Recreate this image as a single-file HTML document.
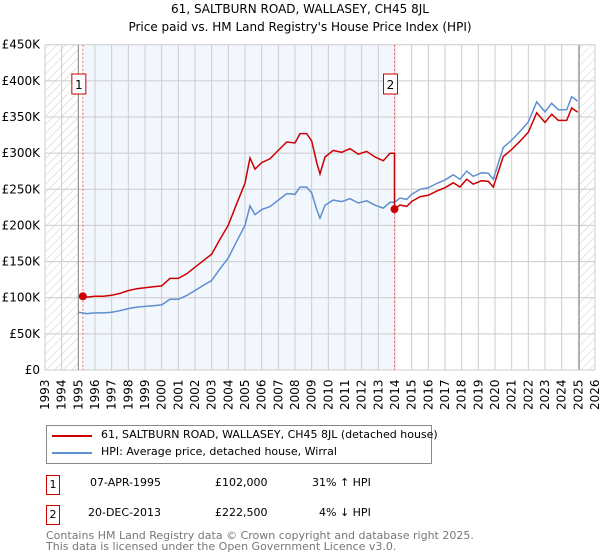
<!DOCTYPE html>
<html><head><meta charset="utf-8"><style>
body{margin:0;background:#fff;font-family:"DejaVu Sans","Liberation Sans",sans-serif;}
#wrap{position:relative;width:600px;height:560px;overflow:hidden}
.t{position:absolute;font-size:12px;color:#000;white-space:nowrap}
</style></head><body><div id="wrap">
<div class="t" style="left:0;width:600px;text-align:center;top:2px">61, SALTBURN ROAD, WALLASEY, CH45 8JL</div>
<div class="t" style="left:0;width:600px;text-align:center;top:20px">Price paid vs. HM Land Registry's House Price Index (HPI)</div>
<svg id="chart" width="600" height="420" style="position:absolute;left:0;top:0" font-family="DejaVu Sans, Liberation Sans, sans-serif"></svg>
<div style="position:absolute;left:46px;top:425px;width:384px;height:37px;border:1px solid #888;font-size:11px">
 <div style="position:absolute;left:5px;top:9px;width:40px;height:2px;background:#cc0000"></div>
 <div class="t" style="left:54px;top:2px;font-size:11px">61, SALTBURN ROAD, WALLASEY, CH45 8JL (detached house)</div>
 <div style="position:absolute;left:5px;top:26px;width:40px;height:2px;background:#5e8fd0"></div>
 <div class="t" style="left:54px;top:19px;font-size:11px">HPI: Average price, detached house, Wirral</div>
</div>
<div style="position:absolute;left:46px;top:475px;width:12px;height:18px;border:1px solid #cc0000;font-size:11px;text-align:center;line-height:18px">1</div>
<div class="t" style="left:90px;top:476px;font-size:11px">07-APR-1995</div>
<div class="t" style="left:215px;top:476px;font-size:11px">£102,000</div>
<div class="t" style="left:312px;top:476px;font-size:11px">31% ↑ HPI</div>
<div style="position:absolute;left:46px;top:505px;width:12px;height:18px;border:1px solid #cc0000;font-size:11px;text-align:center;line-height:18px">2</div>
<div class="t" style="left:88px;top:506px;font-size:11px">20-DEC-2013</div>
<div class="t" style="left:215px;top:506px;font-size:11px">£222,500</div>
<div class="t" style="left:319px;top:506px;font-size:11px">4% ↓ HPI</div>
<div class="t" style="left:46px;top:530px;font-size:11px;color:#777;line-height:11px">Contains HM Land Registry data © Crown copyright and database right 2025.<br>This data is licensed under the Open Government Licence v3.0.</div>
</div>
<script>
const yearTicks=[1993,1994,1995,1996,1997,1998,1999,2000,2001,2002,2003,2004,2005,2006,2007,2008,2009,2010,2011,2012,2013,2014,2015,2016,2017,2018,2019,2020,2021,2022,2023,2024,2025,2026];
const priceTicks=[0,50,100,150,200,250,300,350,400,450];
const priceTickLabels=["£0","£50K","£100K","£150K","£200K","£250K","£300K","£350K","£400K","£450K"];
const hpiDates=[1995.0,1995.5,1996,1996.5,1997,1997.5,1998,1998.5,1999,1999.5,2000,2000.5,2001,2001.5,2002,2002.5,2003,2003.5,2004,2004.5,2005,2005.3,2005.6,2006,2006.5,2007,2007.5,2008,2008.3,2008.7,2009,2009.3,2009.5,2009.8,2010.3,2010.8,2011.3,2011.8,2012.3,2012.8,2013.3,2013.7,2013.97,2014.3,2014.7,2015,2015.5,2016,2016.5,2017,2017.5,2017.9,2018.3,2018.7,2019.2,2019.6,2019.9,2020.5,2021,2021.5,2022,2022.5,2023.0,2023.4,2023.8,2024.3,2024.6,2024.95];
const hpiValues=[80,78,79,79,80,82,85,87,88,89,90,98,98,103,110,117,124,140,155,178,200,227,215,222,226,235,244,243,253,253,245,222,210,228,235,233,237,231,234,228,224,232,232,238,236,243,250,252,258,263,270,264,275,268,273,272,264,308,318,330,343,371,357,369,360,360,378,372];
const saleDates=[1995.27,2013.97];
const salePrices=[102,222.5];
const saleLabels=["1","2"];
const X0=45,X1=595,Y0=370,Y1=44.7;
const xs=d=>X0+(d-1993)/(2026-1993)*(X1-X0);
const ys=v=>Y0-v/450*(Y0-Y1);
const svg=document.getElementById('chart');
const NS='http://www.w3.org/2000/svg';
function mk(t,a,p){const e=document.createElementNS(NS,t);for(const k in a)e.setAttribute(k,a[k]);(p||svg).appendChild(e);return e;}
const defs=mk('defs',{});
const pat=mk('pattern',{id:'hatch',width:6,height:6,patternUnits:'userSpaceOnUse',patternTransform:'rotate(45)'},defs);
mk('line',{x1:0,y1:0,x2:0,y2:6,stroke:'#ccc','stroke-width':1},pat);
let e;
e=mk('rect',{x:xs(1993),y:Y1,width:xs(1995)-xs(1993),height:Y0-Y1,fill:'url(#hatch)'});

e=mk('rect',{x:xs(2025.05),y:Y1,width:X1-xs(2025.05),height:Y0-Y1,fill:'url(#hatch)'});

e=mk('rect',{x:xs(saleDates[0]),y:Y1,width:xs(saleDates[1])-xs(saleDates[0]),height:Y0-Y1,fill:'#f2f6fd'});

yearTicks.forEach(y=>{e=mk('line',{x1:xs(y),x2:xs(y),y1:Y1,y2:Y0,stroke:'#ccc','stroke-width':1});

const t=mk('text',{x:0,y:0,'font-size':12,transform:`translate(${xs(y)+4},${Y0+40}) rotate(-90)`});t.textContent=y;
});
priceTicks.forEach((v,i)=>{e=mk('line',{x1:X0,x2:X1,y1:ys(v),y2:ys(v),stroke:'#ccc','stroke-width':1});

const t=mk('text',{x:40,y:ys(v)+4,'font-size':12,'text-anchor':'end'});t.textContent=priceTickLabels[i];
});
e=mk('line',{x1:xs(1995),x2:xs(1995),y1:Y1,y2:Y0,stroke:'#888','stroke-width':1});

e=mk('line',{x1:xs(2025.05),x2:xs(2025.05),y1:Y1,y2:Y0,stroke:'#888','stroke-width':1});

saleDates.forEach(d=>{e=mk('line',{x1:xs(d),x2:xs(d),y1:Y1,y2:Y0,stroke:'#ee6666','stroke-width':1,'stroke-dasharray':'2,2'});
});
let hp=hpiDates.map((d,i)=>`${xs(d).toFixed(1)},${ys(hpiValues[i]).toFixed(1)}`).join(' ');
e=mk('polyline',{points:hp,fill:'none',stroke:'#5e8fd0','stroke-width':1.5});

function hpiAt(d){for(let i=1;i<hpiDates.length;i++){if(d<=hpiDates[i]){const f=(d-hpiDates[i-1])/(hpiDates[i]-hpiDates[i-1]);return hpiValues[i-1]+f*(hpiValues[i]-hpiValues[i-1]);}}return hpiValues[hpiValues.length-1];}
const r1=salePrices[0]/hpiAt(saleDates[0]),r2=salePrices[1]/hpiAt(saleDates[1]);
let pts=[[saleDates[0],salePrices[0]]];
hpiDates.forEach((d,i)=>{if(d>saleDates[0]&&d<saleDates[1])pts.push([d,hpiValues[i]*r1]);});
pts.push([saleDates[1],hpiAt(saleDates[1])*r1]);pts.push([saleDates[1],salePrices[1]]);
hpiDates.forEach((d,i)=>{if(d>saleDates[1])pts.push([d,hpiValues[i]*r2]);});
e=mk('polyline',{points:pts.map(p=>`${xs(p[0]).toFixed(1)},${ys(p[1]).toFixed(1)}`).join(' '),fill:'none',stroke:'#cc0000','stroke-width':1.5});

saleDates.forEach((d,i)=>{e=mk('circle',{cx:xs(d),cy:ys(salePrices[i]),r:4,fill:'#cc0000'});

const bx=xs(d)-4;const g=mk('g',{});

mk('rect',{x:bx-7,y:74,width:14,height:20,fill:'#fff',stroke:'#cc0000','stroke-width':1},g);
const t=mk('text',{x:bx,y:89,'font-size':12,'text-anchor':'middle'},g);t.textContent=saleLabels[i];});
</script></body></html>
